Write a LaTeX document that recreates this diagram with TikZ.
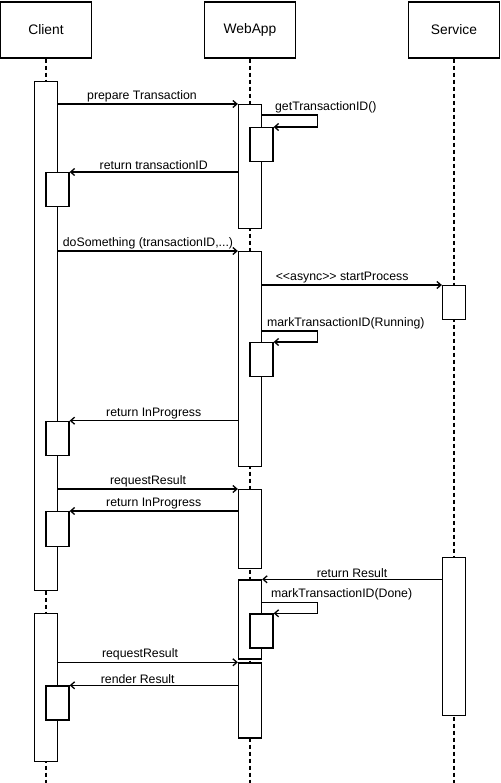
\documentclass[tikz,border=0pt]{standalone}
\usepackage{fontspec}
\setmainfont{Liberation Sans}
\usepackage{tikz}
\usetikzlibrary{arrows.meta,positioning}
\definecolor{inkblack}{HTML}{000000}

\begin{document}
\begin{tikzpicture}[x=1pt,y=-1pt,
    actor/.style={draw=inkblack,line width=1.3pt,fill=white,minimum width=90.7pt,
                  minimum height=56pt,inner sep=0pt,font=\fontsize{13.8}{16}\selectfont},
    life/.style={draw=inkblack,line width=1.3pt,dash pattern=on 4pt off 3pt},
    act/.style={draw=inkblack,line width=1.3pt,fill=white,minimum width=23pt,
                inner sep=0pt,anchor=north},
    msg/.style={draw=inkblack,line width=1.3pt,-{Straight Barb[length=4pt,width=7pt]}},
    lbl/.style={font=\fontsize{12.3}{14}\selectfont,inner sep=1.5pt}]
  \useasboundingbox (0,0) rectangle (500,783);

  % participants
  \node[actor] (client) at (46,30) {Client};
  \node[actor] (webapp) at (250,30) {WebApp};
  \node[actor] (service) at (454,30) {Service};

  % lifelines
  \coordinate (clientend) at (46,783);
  \coordinate (webappend) at (250,783);
  \coordinate (serviceend) at (454,783);
  \draw[life] (client.south) -- (clientend);
  \draw[life] (webapp.south) -- (webappend);
  \draw[life] (service.south) -- (serviceend);

  % activations: Client
  \node[act,minimum height=509pt] (ca1) at (46,81) {};
  \node[act,minimum height=34pt] (cn1) at (57.5,172) {};
  \node[act,minimum height=34.3pt] (cn2) at (57.5,420.7) {};
  \node[act,minimum height=35pt] (cn3) at (57.5,511) {};
  \node[act,minimum height=148pt] (ca2) at (46,613) {};
  \node[act,minimum height=34pt] (cn4) at (57.5,685.3) {};

  % activations: WebApp
  \node[act,minimum height=124pt] (wa1) at (250,104) {};
  \node[act,minimum height=34pt] (ws1) at (261.5,127) {};
  \node[act,minimum height=215pt] (wa2) at (250,251) {};
  \node[act,minimum height=34pt] (ws2) at (261.5,342) {};
  \node[act,minimum height=79pt] (wa3) at (250,489) {};
  \node[act,minimum height=79pt] (wa4) at (250,579.3) {};
  \node[act,minimum height=34pt] (ws3) at (261.5,613.3) {};
  \node[act,minimum height=75pt] (wa5) at (250,662.3) {};

  % activations: Service
  \node[act,minimum height=34pt] (sa1) at (454,285) {};
  \node[act,minimum height=158.3pt] (sa2) at (454,556.7) {};

  % messages
  \draw[msg] (ca1.east |- wa1.north) -- node[lbl,above,xshift=-6pt] {prepare Transaction} (wa1.north west);
  \draw[msg] (ws1.north) ++(0,-12) -- node[lbl,pos=0,anchor=south west,xshift=11.5pt] {getTransactionID()} ++(56,0) |- (ws1.north east);
  \draw[msg] (wa1.west |- cn1.north) -- node[lbl,above] {return transactionID} (cn1.north east);

  \draw[msg] (ca1.east |- wa2.north) -- node[lbl,above] {doSomething (transactionID,...)} (wa2.north west);
  \draw[msg] (wa2.east |- sa1.north) -- node[lbl,pos=0,anchor=south west,xshift=11.5pt] {<{}<async>{}> startProcess} (sa1.north west);
  \draw[msg] (ws2.north) ++(0,-11) -- node[lbl,pos=0,anchor=south west,xshift=3.5pt] {markTransactionID(Running)} ++(56,0) |- (ws2.north east);
  \draw[msg] (wa2.west |- cn2.north) -- node[lbl,above] {return InProgress} (cn2.north east);

  \draw[msg] (ca1.east |- wa3.north) -- node[lbl,above] {requestResult} (wa3.north west);
  \draw[msg] (wa3.west |- cn3.north) -- node[lbl,above] {return InProgress} (cn3.north east);

  \draw[msg] (sa2.west |- wa4.north) -- node[lbl,above] {return Result} (wa4.north east);
  \draw[msg] (ws3.north) ++(0,-11) -- node[lbl,pos=0,anchor=south west,xshift=7.5pt] {markTransactionID(Done)} ++(56,0) |- (ws3.north east);
  \draw[msg] (ca2.east |- wa5.north) -- node[lbl,above,xshift=-8pt] {requestResult} (wa5.north west);
  \draw[msg] (wa5.west |- cn4.north) -- node[lbl,above,xshift=-16pt] {render Result} (cn4.north east);
\end{tikzpicture}
\end{document}
